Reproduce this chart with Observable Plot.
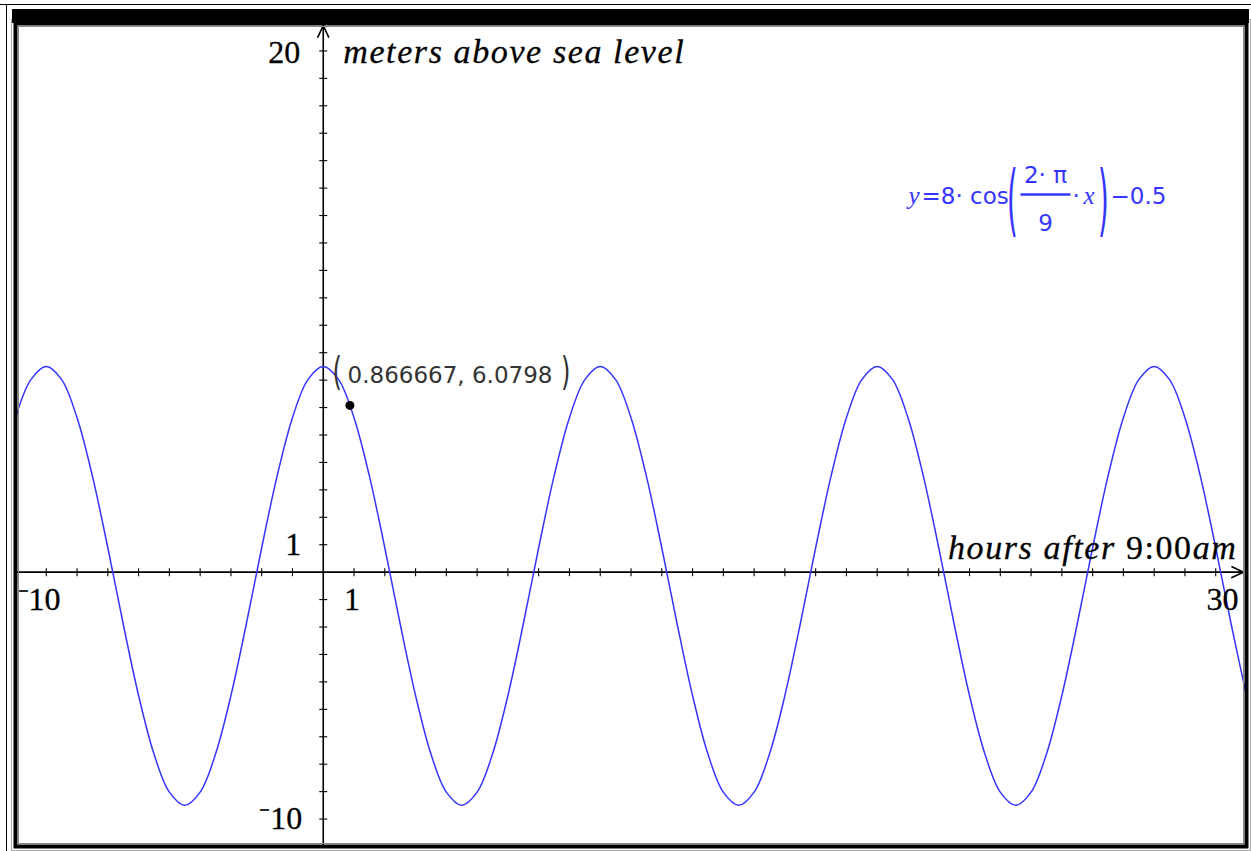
<!DOCTYPE html>
<html><head><meta charset="utf-8">
<script src="https://cdn.jsdelivr.net/npm/d3@7"></script>
<script src="https://cdn.jsdelivr.net/npm/@observablehq/plot@0.6"></script>
<style>
html,body{margin:0;padding:0;background:#fff;}
#wrap{position:relative;width:1251px;height:851px;overflow:hidden;}
#wrap svg{position:absolute;left:0;top:0;}
.deco{position:absolute;}
</style></head><body>
<div id="wrap">
<div class="deco" style="left:0;top:4px;width:1251px;height:1px;background:#000"></div>
<div class="deco" style="left:6px;top:4px;width:1px;height:847px;background:#000"></div>
</div>
<script>
// ---- data ----
const hours = [-10,-9.5,-9,-8.5,-8,-7.5,-7,-6.5,-6,-5.5,-5,-4.5,-4,-3.5,-3,-2.5,-2,-1.5,-1,-0.5,
  0,0.5,1,1.5,2,2.5,3,3.5,4,4.5,5,5.5,6,6.5,7,7.5,8,8.5,9,9.5,10,10.5,11,11.5,12,12.5,13,13.5,14,14.5,
  15,15.5,16,16.5,17,17.5,18,18.5,19,19.5,20,20.5,21,21.5,22,22.5,23,23.5,24,24.5,25,25.5,26,26.5,27,27.5,
  28,28.5,29,29.5,30];
const meters = [5.63,7.02,
  7.5,7.02,5.63,3.5,0.89,-1.89,-4.5,-6.63,-8.02,-8.5,-8.02,-6.63,-4.5,-1.89,0.89,3.5,5.63,7.02,
  7.5,7.02,5.63,3.5,0.89,-1.89,-4.5,-6.63,-8.02,-8.5,-8.02,-6.63,-4.5,-1.89,0.89,3.5,5.63,7.02,
  7.5,7.02,5.63,3.5,0.89,-1.89,-4.5,-6.63,-8.02,-8.5,-8.02,-6.63,-4.5,-1.89,0.89,3.5,5.63,7.02,
  7.5,7.02,5.63,3.5,0.89,-1.89,-4.5,-6.63,-8.02,-8.5,-8.02,-6.63,-4.5,-1.89,0.89,3.5,5.63,7.02,
  7.5,7.02,5.63,3.5,0.89,-1.89,-4.5];
const tracePoint = [{x: 0.866667, y: 6.0798}];
const tracePointLabel = "0.866667, 6.0798";
const xWindow = [-10, 30];
const yWindow = [-10, 20];
const xTicks = d3.range(-9, 30).filter(d => d !== 0);
const yTicks = d3.range(-9, 20).filter(d => d !== 0);
const xTitle = "hours after 9:00am";
const yTitle = "meters above sea level";
const formulaAnchor = [{x: 19, y: 13.5}];

const tide = hours.map((h, i) => ({hour: h, meter: meters[i]}));

const BLUE = "#3535ff";
const LABEL = "#333333";
const SERIF = "'Liberation Serif','Times New Roman',serif";
const SANS = "'DejaVu Sans',sans-serif";

const vTick = {draw(ctx) { ctx.moveTo(0, -4); ctx.lineTo(0, 4); }};
const hTick = {draw(ctx) { ctx.moveTo(-4, 0); ctx.lineTo(4, 0); }};
const fracBar = {draw(ctx) { ctx.moveTo(-25, 0); ctx.lineTo(25, 0); }};

const serifNum = {fontFamily: SERIF, fontSize: 32, fill: "black", stroke: "black", strokeWidth: 0.3};

const svg = Plot.plot({
  width: 1251, height: 851,
  marginLeft: 15, marginRight: 5, marginTop: 23, marginBottom: 5,
  x: {domain: xWindow, axis: null},
  y: {domain: yWindow, axis: null},
  style: {background: "transparent"},
  marks: [
    // axes
    Plot.arrow([0], {x1: xWindow[0], x2: xWindow[1], y1: 0, y2: 0, stroke: "black", strokeWidth: 1.6, headLength: 12, headAngle: 50, insetEnd: 3}),
    Plot.arrow([0], {x1: 0, x2: 0, y1: yWindow[0], y2: yWindow[1], stroke: "black", strokeWidth: 1.6, headLength: 12, headAngle: 50, insetEnd: 2}),
    Plot.dot(xTicks, {x: d => d, y: 0, symbol: vTick, stroke: "black", strokeWidth: 1.1, fill: "none"}),
    Plot.dot(yTicks, {x: 0, y: d => d, symbol: hTick, stroke: "black", strokeWidth: 1.1, fill: "none"}),
    // curve
    Plot.line(tide, {x: "hour", y: "meter", stroke: BLUE, strokeWidth: 1.5, curve: "catmull-rom", clip: true}),
    // window labels
    Plot.text([yWindow[1]], {x: 0, y: d => d, text: d => String(d), textAnchor: "end", dx: -23, dy: 29, ...serifNum}),
    Plot.text([yWindow[0]], {x: 0, y: d => d, text: d => "\u207B" + Math.abs(d), textAnchor: "end", dx: -21, dy: -28, ...serifNum}),
    Plot.text([1], {x: 0, y: d => d, text: d => String(d), textAnchor: "end", dx: -22, dy: 0, ...serifNum}),
    Plot.text([xWindow[0]], {x: d => d, y: 0, text: d => "\u207B" + Math.abs(d), textAnchor: "start", dx: 2, dy: 28, ...serifNum}),
    Plot.text([1], {x: d => d, y: 0, text: d => String(d), textAnchor: "middle", dx: -2, dy: 28, ...serifNum}),
    Plot.text([xWindow[1]], {x: d => d, y: 0, text: d => String(d), textAnchor: "end", dx: -8, dy: 28, ...serifNum}),
    // axis titles
    Plot.text([yTitle], {x: 0, y: yWindow[1], text: d => d, textAnchor: "start", lineAnchor: "bottom", dx: 20, dy: 39, fontFamily: SERIF, fontSize: 34, fontStyle: "italic", fill: "black", stroke: "black", strokeWidth: 0.3}),
    Plot.text([xTitle], {x: xWindow[1], y: 0, text: d => d, textAnchor: "end", lineAnchor: "bottom", dx: -9, dy: -13, fontFamily: SERIF, fontSize: 34, fill: "black", stroke: "black", strokeWidth: 0.3}),
    // traced point
    Plot.dot(tracePoint, {x: "x", y: "y", r: 4.5, fill: "black"}),
    Plot.text(tracePoint, {x: "x", y: "y", text: () => "(", textAnchor: "middle", lineAnchor: "middle", dx: -12.8, dy: -33, fontFamily: SANS, fontSize: 23, fill: LABEL}),
    Plot.text(tracePoint, {x: "x", y: "y", text: () => tracePointLabel, textAnchor: "start", lineAnchor: "bottom", dx: -2.3, dy: -22.7, fontFamily: SANS, fontSize: 23, fill: LABEL}),
    Plot.text(tracePoint, {x: "x", y: "y", text: () => ")", textAnchor: "middle", lineAnchor: "middle", dx: 215.7, dy: -33, fontFamily: SANS, fontSize: 23, fill: LABEL}),
    // formula
    Plot.text(formulaAnchor, {x: "x", y: "y", text: () => "y", textAnchor: "start", lineAnchor: "bottom", dx: 0.5, dy: 1.7, fontFamily: SERIF, fontStyle: "italic", fontSize: 25, fill: BLUE}),
    Plot.text(formulaAnchor, {x: "x", y: "y", text: () => "=8\u00B7 cos", textAnchor: "start", lineAnchor: "bottom", dx: 13.5, dy: 1.7, fontFamily: SANS, fontSize: 23, fill: BLUE}),
    Plot.text(formulaAnchor, {x: "x", y: "y", text: () => "(", textAnchor: "middle", lineAnchor: "middle", dx: 104.5, dy: -1.3, fontFamily: SANS, fontSize: 23, fill: BLUE}),
    Plot.text(formulaAnchor, {x: "x", y: "y", text: () => "2\u00B7 \u03C0", textAnchor: "middle", lineAnchor: "bottom", dx: 137.5, dy: -19.3, fontFamily: SANS, fontSize: 23, fill: BLUE}),
    Plot.dot(formulaAnchor, {x: "x", y: "y", symbol: fracBar, stroke: BLUE, strokeWidth: 2.5, fill: "none", dx: 137.5, dy: -7.3}),
    Plot.text(formulaAnchor, {x: "x", y: "y", text: () => "9", textAnchor: "middle", lineAnchor: "bottom", dx: 137.5, dy: 28.7, fontFamily: SANS, fontSize: 23, fill: BLUE}),
    Plot.text(formulaAnchor, {x: "x", y: "y", text: () => "\u00B7", textAnchor: "start", lineAnchor: "bottom", dx: 164.5, dy: 1.7, fontFamily: SANS, fontSize: 23, fill: BLUE}),
    Plot.text(formulaAnchor, {x: "x", y: "y", text: () => "x", textAnchor: "start", lineAnchor: "bottom", dx: 175.5, dy: 1.7, fontFamily: SERIF, fontStyle: "italic", fontSize: 25, fill: BLUE}),
    Plot.text(formulaAnchor, {x: "x", y: "y", text: () => ")", textAnchor: "middle", lineAnchor: "middle", dx: 195.5, dy: -1.3, fontFamily: SANS, fontSize: 23, fill: BLUE}),
    Plot.text(formulaAnchor, {x: "x", y: "y", text: () => "\u22120.5", textAnchor: "start", lineAnchor: "bottom", dx: 202.5, dy: 1.7, fontFamily: SANS, fontSize: 23, fill: BLUE}),
    // window frame
    Plot.frame({stroke: "#888", strokeWidth: 1, inset: 3}),
    Plot.frame({stroke: "black", strokeWidth: 4}),
    Plot.frame({stroke: "#aaa", strokeWidth: 1, inset: -4})
  ]
});

const wrap = document.getElementById("wrap");
wrap.appendChild(svg);
const bar = document.createElement("div");
bar.className = "deco";
bar.style.cssText = "left:12px;top:9px;width:1237px;height:14px;background:#000";
wrap.appendChild(bar);

const sel = d3.select(svg);
function groupFill(el) {
  let n = el.parentNode;
  while (n && n !== svg) { const f = n.getAttribute && n.getAttribute("fill"); if (f) return f; n = n.parentNode; }
  return el.getAttribute("fill");
}
// tall stretched brackets, as drawn by the calculator
sel.selectAll("text").each(function () {
  const s = this.textContent;
  if (s !== "(" && s !== ")") return;
  const isFormula = (groupFill(this) || "").toLowerCase() === BLUE;
  const sy = isFormula ? 3.4 : 1.7, sx = isFormula ? 1.2 : 1.05;
  const b = this.getBBox();
  const cx = b.x + b.width / 2, cy = b.y + b.height / 2;
  const t = this.getAttribute("transform") || "";
  this.setAttribute("transform", `${t} translate(${cx},${cy}) scale(${sx},${sy}) translate(${-cx},${-cy})`.trim());
});
sel.selectAll("text").filter(function () { return this.textContent === yTitle; })
  .attr("letter-spacing", 1.6);
sel.selectAll("text").filter(function () { return this.textContent === xTitle; })
  .attr("letter-spacing", 1.6)
  .each(function () {
    const el = d3.select(this);
    el.text(null);
    el.append("tspan").attr("font-style", "italic").text("hours after ");
    el.append("tspan").attr("font-style", "normal").text("9:00");
    el.append("tspan").attr("font-style", "italic").text("am");
  });
</script>
</body></html>
